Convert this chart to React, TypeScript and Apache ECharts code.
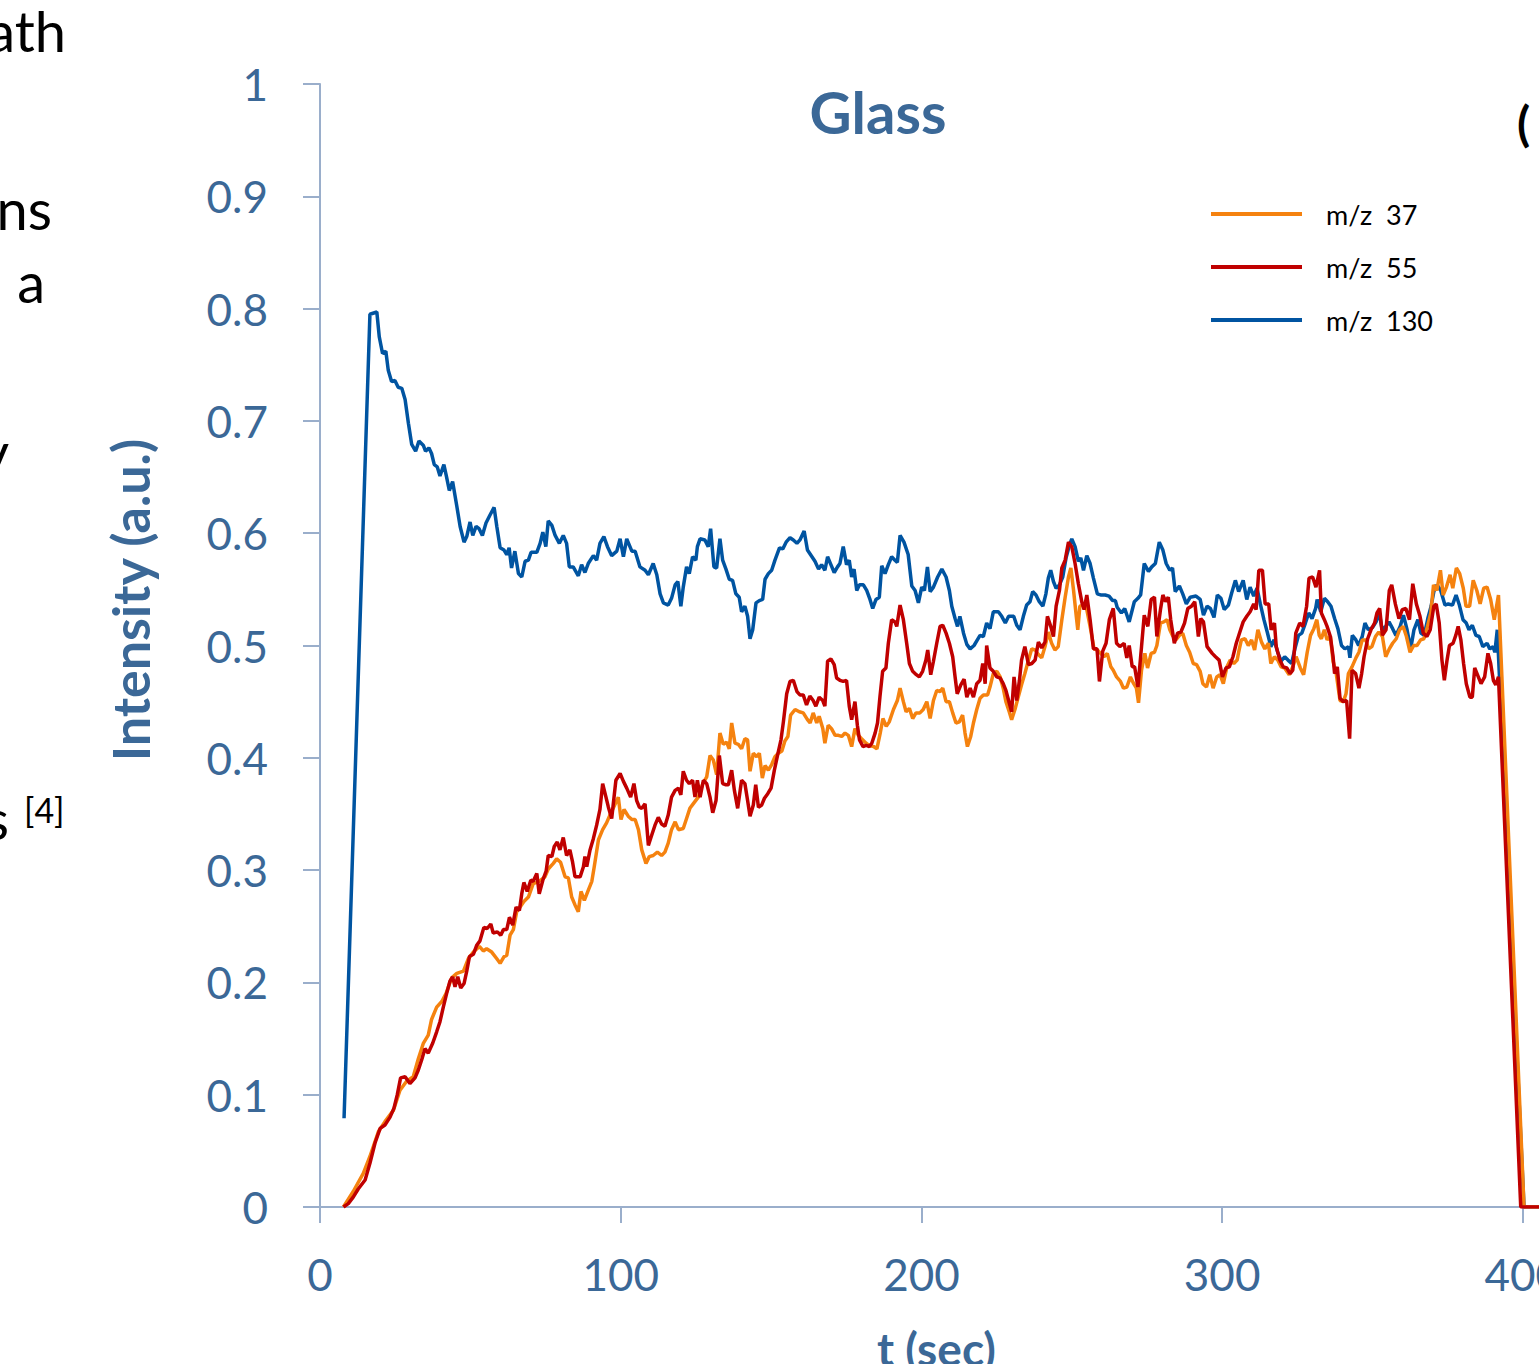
import React, { useEffect, useRef } from "react";
import * as echarts from "echarts";

// ---- data (t in sec, intensity in a.u.) ----
const seriesNames = ["m/z  37", "m/z  55", "m/z  130"];
const seriesColors = ["#F5820F", "#C00000", "#0054A1"];

const mz37: number[][] = [
  [7.8,0],[11.1,0.014],[14.4,0.030],[16.6,0.045],[19.4,0.067],[21.6,0.076],[24.4,0.086],[26.6,0.104],[28.8,0.112],[31.0,0.116],[32.7,0.132],[34.4,0.146],[36.0,0.153],[37.1,0.167],[38.8,0.178],[40.5,0.183],[41.9,0.190],[43.8,0.204],[45.5,0.208],[47.7,0.210],[49.3,0.221],[51.0,0.227],[53.0,0.232],[54.3,0.228],[55.4,0.230],[57.1,0.227],[58.8,0.221],[59.9,0.217],[61.2,0.223],[62.1,0.224],[63.2,0.242],[64.3,0.247],[65.4,0.263],[66.5,0.267],[67.8,0.272],[69.3,0.276],[70.9,0.288],[72.1,0.289],[73.4,0.291],[74.8,0.294],[75.9,0.301],[77.6,0.306],[78.7,0.310],[80.0,0.307],[81.5,0.294],[82.6,0.293],[83.7,0.276],[84.8,0.269],[85.9,0.263],[86.8,0.281],[87.9,0.273],[89.2,0.282],[90.4,0.290],[91.2,0.303],[92.6,0.327],[94.0,0.336],[95.3,0.342],[96.4,0.349],[97.5,0.355],[99.2,0.365],[100.1,0.345],[101.1,0.354],[102.5,0.348],[103.7,0.345],[104.8,0.345],[105.9,0.336],[107.0,0.318],[108.4,0.306],[109.5,0.312],[110.8,0.313],[112.2,0.316],[113.6,0.313],[114.7,0.316],[115.8,0.324],[116.9,0.336],[118.1,0.343],[119.2,0.336],[120.8,0.337],[121.9,0.346],[123.0,0.355],[124.1,0.359],[125.8,0.365],[127.3,0.377],[128.6,0.383],[129.7,0.402],[130.8,0.398],[131.9,0.385],[133.0,0.422],[134.1,0.412],[135.2,0.414],[136.1,0.408],[136.9,0.431],[138.0,0.413],[139.1,0.412],[140.2,0.408],[141.3,0.417],[142.2,0.416],[143.0,0.388],[144.1,0.404],[145.2,0.401],[146.1,0.404],[147.1,0.382],[148.0,0.393],[149.1,0.389],[150.2,0.394],[151.3,0.401],[152.4,0.404],[153.6,0.406],[154.6,0.415],[155.6,0.419],[156.5,0.438],[158.0,0.443],[159.4,0.441],[160.7,0.440],[162.1,0.434],[163.0,0.431],[164.0,0.440],[165.2,0.431],[166.0,0.437],[167.2,0.426],[167.9,0.413],[169.0,0.429],[170.1,0.426],[171.3,0.420],[172.4,0.420],[173.5,0.419],[174.6,0.422],[175.7,0.420],[176.8,0.410],[177.9,0.426],[179.0,0.420],[180.1,0.417],[181.6,0.413],[182.7,0.411],[184.1,0.410],[185.2,0.408],[186.3,0.422],[187.2,0.435],[188.3,0.428],[189.3,0.432],[190.7,0.443],[192.0,0.451],[192.9,0.462],[194.0,0.450],[194.9,0.441],[196.0,0.444],[197.1,0.435],[198.2,0.440],[199.5,0.440],[200.6,0.443],[201.8,0.450],[202.9,0.435],[204.0,0.451],[205.1,0.460],[206.2,0.459],[207.1,0.462],[208.2,0.450],[209.3,0.450],[210.4,0.440],[211.5,0.431],[212.6,0.432],[213.7,0.438],[214.5,0.422],[215.3,0.410],[216.4,0.419],[217.3,0.431],[218.4,0.443],[219.5,0.453],[220.6,0.456],[222.0,0.456],[222.8,0.463],[223.9,0.475],[225.1,0.477],[226.2,0.472],[227.2,0.462],[228.1,0.450],[229.2,0.441],[230.0,0.434],[231.1,0.443],[232.2,0.454],[233.3,0.465],[234.4,0.475],[235.6,0.487],[236.7,0.497],[237.8,0.496],[238.9,0.492],[240.0,0.489],[241.1,0.499],[242.2,0.512],[243.3,0.502],[244.4,0.496],[245.5,0.499],[246.7,0.523],[247.8,0.543],[248.9,0.561],[249.7,0.569],[250.6,0.549],[251.5,0.526],[252.0,0.514],[252.7,0.535],[253.9,0.536],[255.0,0.532],[256.3,0.514],[257.4,0.497],[258.5,0.496],[259.6,0.493],[260.7,0.490],[261.8,0.493],[263.0,0.481],[263.8,0.478],[264.9,0.472],[266.2,0.468],[267.2,0.462],[268.3,0.463],[269.5,0.472],[270.6,0.466],[271.5,0.462],[272.2,0.449],[273.2,0.478],[274.3,0.493],[275.2,0.480],[276.4,0.493],[277.5,0.494],[278.3,0.500],[279.5,0.520],[280.6,0.521],[281.7,0.523],[282.6,0.514],[283.5,0.509],[284.6,0.505],[285.8,0.509],[286.9,0.511],[288.1,0.500],[289.2,0.494],[290.4,0.484],[291.5,0.483],[292.7,0.477],[293.6,0.466],[294.8,0.463],[295.9,0.474],[297.0,0.462],[298.2,0.472],[299.3,0.474],[300.4,0.466],[301.6,0.481],[302.7,0.487],[303.9,0.484],[305.0,0.487],[305.5,0.494],[306.4,0.505],[307.6,0.506],[308.7,0.500],[309.8,0.505],[310.8,0.496],[311.9,0.514],[313.1,0.503],[314.2,0.497],[315.4,0.502],[316.2,0.484],[317.4,0.490],[318.5,0.487],[319.6,0.481],[320.8,0.480],[322.3,0.474],[323.5,0.481],[324.6,0.490],[326.0,0.480],[327.1,0.474],[328.3,0.494],[329.4,0.509],[330.5,0.515],[331.5,0.523],[332.3,0.509],[333.0,0.506],[334.0,0.514],[334.9,0.505],[336.0,0.508],[336.9,0.486],[338.0,0.474],[339.2,0.451],[340.3,0.450],[341.2,0.457],[342.0,0.475],[343.2,0.481],[344.5,0.489],[345.5,0.494],[346.6,0.505],[347.8,0.505],[348.7,0.497],[349.8,0.499],[351.0,0.508],[352.1,0.512],[353.3,0.508],[354.4,0.490],[355.6,0.497],[356.7,0.502],[357.9,0.506],[359.0,0.514],[360.2,0.517],[361.3,0.508],[362.5,0.494],[363.7,0.500],[364.8,0.500],[366.0,0.505],[367.1,0.506],[368.3,0.517],[369.4,0.529],[370.3,0.554],[371.4,0.549],[372.6,0.567],[373.5,0.545],[374.6,0.552],[375.8,0.563],[376.7,0.551],[377.9,0.569],[379.0,0.564],[380.2,0.551],[381.1,0.535],[382.3,0.535],[383.5,0.558],[384.7,0.549],[385.8,0.537],[387.0,0.551],[388.1,0.552],[389.3,0.541],[390.5,0.523],[391.9,0.545],[400.4,0],[410,0]
];

const mz55: number[][] = [
  [7.8,0],[9.4,0.003],[11.1,0.009],[12.7,0.016],[15.0,0.024],[16.6,0.039],[18.3,0.057],[20.0,0.070],[21.6,0.073],[23.3,0.080],[24.6,0.088],[25.7,0.100],[26.8,0.115],[28.3,0.116],[29.9,0.110],[31.6,0.115],[32.7,0.122],[33.8,0.131],[34.9,0.141],[36.0,0.137],[37.5,0.146],[38.8,0.156],[39.9,0.165],[41.0,0.178],[42.1,0.190],[43.2,0.201],[44.1,0.205],[44.9,0.196],[45.8,0.205],[46.8,0.195],[47.9,0.199],[48.8,0.210],[49.7,0.223],[51.0,0.225],[52.1,0.233],[53.2,0.237],[54.5,0.249],[55.6,0.248],[56.8,0.252],[57.6,0.244],[59.0,0.245],[60.1,0.242],[61.0,0.247],[62.1,0.247],[63.0,0.258],[64.1,0.251],[65.2,0.267],[66.3,0.264],[67.1,0.279],[67.8,0.289],[68.9,0.281],[70.1,0.291],[70.9,0.290],[72.1,0.297],[72.9,0.279],[74.1,0.291],[75.2,0.299],[75.9,0.313],[77.1,0.312],[77.9,0.321],[78.9,0.325],[79.8,0.318],[80.9,0.329],[82.0,0.313],[83.1,0.318],[84.0,0.307],[84.8,0.294],[86.5,0.294],[87.6,0.303],[88.1,0.312],[88.7,0.303],[89.8,0.318],[90.9,0.328],[92.0,0.340],[93.1,0.354],[94.0,0.377],[95.1,0.365],[95.9,0.356],[97.0,0.346],[98.4,0.380],[99.8,0.386],[100.9,0.379],[102.0,0.373],[103.3,0.365],[104.4,0.377],[105.3,0.362],[106.2,0.356],[107.0,0.355],[108.1,0.359],[109.2,0.322],[110.3,0.331],[111.4,0.340],[112.5,0.347],[113.6,0.341],[114.7,0.339],[115.8,0.349],[116.9,0.365],[118.1,0.371],[119.2,0.373],[120.0,0.367],[120.8,0.388],[121.9,0.380],[122.8,0.377],[123.9,0.380],[124.7,0.365],[125.5,0.380],[126.4,0.365],[127.5,0.380],[128.6,0.377],[129.7,0.365],[130.6,0.351],[131.7,0.362],[132.8,0.402],[133.9,0.377],[135.0,0.376],[135.8,0.376],[136.9,0.389],[137.8,0.371],[138.9,0.355],[140.2,0.380],[141.3,0.377],[142.2,0.362],[143.0,0.348],[144.1,0.358],[144.9,0.376],[145.8,0.356],[146.9,0.358],[147.8,0.364],[148.9,0.368],[150.0,0.373],[151.1,0.389],[152.3,0.404],[153.3,0.416],[154.1,0.432],[155.2,0.457],[156.3,0.468],[157.4,0.469],[158.6,0.459],[159.6,0.456],[160.7,0.456],[161.8,0.447],[162.9,0.455],[164.0,0.451],[164.9,0.446],[166.0,0.454],[167.2,0.451],[167.9,0.446],[168.8,0.486],[169.9,0.488],[171.0,0.483],[171.8,0.471],[172.9,0.469],[174.0,0.468],[175.1,0.469],[176.0,0.446],[176.8,0.434],[177.9,0.450],[178.7,0.429],[179.4,0.416],[180.6,0.410],[181.6,0.411],[182.7,0.410],[183.5,0.413],[184.6,0.422],[185.4,0.431],[186.2,0.454],[187.1,0.477],[188.2,0.480],[189.0,0.502],[190.1,0.523],[191.2,0.521],[191.8,0.517],[192.9,0.536],[194.0,0.523],[195.1,0.502],[196.0,0.484],[197.1,0.477],[198.3,0.474],[199.3,0.472],[200.4,0.477],[201.5,0.487],[202.1,0.496],[203.1,0.474],[204.0,0.486],[205.1,0.502],[206.2,0.517],[207.1,0.518],[208.2,0.511],[209.3,0.502],[210.4,0.490],[211.2,0.472],[211.9,0.457],[213.1,0.465],[214.2,0.470],[215.1,0.454],[216.2,0.462],[217.3,0.454],[218.4,0.466],[219.5,0.469],[220.4,0.484],[221.2,0.466],[221.7,0.500],[222.8,0.480],[223.9,0.477],[225.1,0.472],[226.2,0.471],[227.2,0.466],[228.1,0.460],[229.2,0.449],[230.0,0.441],[230.8,0.472],[231.7,0.451],[232.6,0.469],[233.3,0.487],[234.4,0.499],[235.6,0.483],[236.7,0.484],[237.8,0.487],[238.9,0.503],[240.0,0.498],[241.1,0.503],[241.9,0.526],[243.0,0.517],[243.9,0.508],[244.8,0.535],[245.9,0.549],[246.7,0.569],[247.8,0.576],[248.9,0.592],[250.0,0.588],[251.1,0.573],[252.2,0.555],[253.4,0.538],[254.1,0.532],[255.0,0.545],[256.1,0.523],[257.2,0.497],[258.4,0.497],[259.2,0.468],[260.3,0.495],[261.4,0.502],[262.5,0.523],[263.8,0.533],[264.9,0.502],[266.0,0.499],[267.4,0.502],[268.3,0.489],[269.1,0.500],[270.1,0.481],[270.9,0.481],[272.0,0.463],[273.2,0.499],[274.1,0.527],[275.3,0.517],[276.4,0.541],[277.5,0.543],[278.3,0.508],[279.5,0.532],[280.3,0.545],[281.2,0.539],[282.1,0.543],[282.9,0.523],[284.1,0.502],[285.2,0.511],[286.3,0.512],[287.5,0.520],[288.6,0.533],[289.8,0.535],[290.9,0.539],[292.1,0.508],[292.9,0.524],[293.8,0.521],[295.0,0.499],[296.7,0.493],[297.8,0.490],[299.0,0.487],[300.1,0.472],[301.3,0.480],[302.4,0.481],[303.6,0.490],[304.7,0.502],[305.9,0.512],[307.0,0.521],[308.2,0.526],[309.3,0.530],[310.5,0.537],[311.3,0.532],[312.2,0.567],[313.4,0.567],[314.3,0.537],[315.5,0.537],[316.3,0.514],[317.4,0.520],[318.0,0.499],[319.2,0.487],[320.3,0.481],[321.5,0.480],[322.6,0.475],[323.5,0.478],[324.5,0.511],[325.8,0.520],[326.9,0.517],[328.1,0.535],[328.9,0.560],[330.1,0.561],[331.2,0.552],[332.4,0.567],[333.0,0.529],[334.0,0.523],[334.9,0.517],[336.0,0.508],[336.9,0.490],[337.4,0.475],[338.3,0.481],[339.2,0.453],[340.3,0.450],[341.4,0.451],[342.4,0.417],[343.2,0.478],[344.4,0.475],[345.5,0.462],[346.4,0.475],[347.2,0.490],[348.4,0.506],[349.5,0.514],[350.7,0.520],[351.5,0.529],[352.4,0.533],[353.3,0.509],[354.5,0.514],[355.6,0.549],[356.4,0.554],[357.6,0.537],[358.8,0.524],[359.9,0.532],[361.1,0.533],[362.3,0.523],[363.4,0.555],[364.6,0.537],[365.8,0.526],[366.9,0.511],[368.1,0.508],[369.2,0.514],[370.4,0.535],[371.2,0.537],[372.2,0.520],[373.1,0.487],[373.9,0.469],[374.8,0.487],[375.6,0.500],[376.8,0.502],[377.7,0.509],[378.5,0.517],[379.4,0.505],[380.3,0.484],[381.2,0.466],[382.4,0.454],[383.2,0.454],[384.0,0.480],[385.2,0.472],[386.1,0.466],[387.3,0.472],[388.4,0.493],[389.3,0.484],[390.2,0.469],[391.0,0.465],[391.9,0.472],[399.3,0],[410,0]
];

const mz130: number[][] = [
  [8.0,0.079],[16.6,0.795],[18.9,0.797],[19.7,0.775],[20.8,0.760],[21.9,0.762],[22.7,0.745],[23.8,0.735],[24.9,0.736],[26.0,0.730],[27.2,0.729],[28.3,0.719],[29.4,0.698],[30.5,0.679],[31.8,0.673],[32.9,0.682],[34.4,0.678],[35.1,0.673],[36.2,0.676],[37.1,0.671],[38.0,0.661],[39.0,0.659],[39.9,0.651],[41.2,0.661],[42.1,0.650],[43.0,0.638],[44.1,0.646],[45.5,0.624],[46.6,0.606],[47.9,0.592],[48.8,0.597],[49.9,0.610],[50.8,0.598],[51.9,0.606],[52.9,0.604],[54.0,0.598],[55.2,0.609],[56.5,0.616],[57.9,0.623],[58.8,0.606],[59.9,0.587],[61.2,0.585],[62.1,0.581],[62.9,0.587],[63.7,0.569],[64.8,0.584],[66.0,0.564],[67.1,0.561],[68.2,0.575],[69.3,0.576],[70.2,0.583],[72.1,0.583],[73.2,0.591],[74.1,0.601],[75.1,0.588],[75.9,0.611],[77.1,0.607],[78.2,0.598],[79.6,0.591],[80.9,0.598],[82.0,0.591],[82.9,0.570],[84.2,0.570],[85.9,0.562],[87.0,0.572],[88.1,0.565],[89.2,0.573],[90.9,0.580],[92.0,0.576],[93.1,0.591],[94.4,0.597],[95.6,0.588],[97.0,0.580],[98.7,0.584],[99.8,0.595],[100.9,0.579],[102.0,0.595],[103.7,0.584],[104.8,0.584],[106.4,0.570],[108.1,0.567],[109.2,0.563],[110.8,0.573],[112.0,0.563],[113.1,0.546],[114.2,0.538],[115.8,0.536],[116.9,0.542],[118.1,0.554],[119.0,0.557],[120.0,0.535],[120.8,0.552],[121.9,0.570],[122.8,0.564],[123.9,0.579],[125.0,0.576],[125.5,0.588],[126.4,0.595],[128.0,0.594],[129.1,0.588],[129.9,0.604],[131.0,0.570],[131.9,0.569],[133.0,0.595],[133.9,0.576],[135.0,0.568],[136.1,0.559],[137.2,0.558],[138.3,0.546],[139.4,0.543],[140.2,0.530],[141.3,0.535],[142.2,0.526],[143.0,0.506],[143.9,0.514],[145.0,0.538],[146.1,0.540],[147.2,0.541],[148.0,0.559],[149.1,0.564],[150.2,0.567],[151.3,0.576],[152.8,0.587],[153.9,0.586],[155.0,0.592],[156.3,0.596],[157.4,0.594],[158.6,0.591],[159.6,0.594],[161.0,0.602],[162.1,0.585],[163.6,0.579],[164.6,0.575],[165.8,0.568],[166.8,0.572],[167.9,0.567],[168.8,0.579],[169.9,0.572],[171.0,0.565],[172.1,0.570],[172.9,0.573],[174.0,0.588],[175.1,0.572],[176.0,0.576],[176.8,0.561],[177.6,0.568],[178.5,0.549],[179.4,0.554],[180.7,0.554],[181.8,0.549],[182.9,0.541],[183.8,0.533],[184.9,0.541],[186.0,0.543],[186.8,0.571],[187.9,0.564],[189.0,0.572],[190.1,0.579],[191.2,0.576],[192.0,0.574],[192.9,0.598],[194.2,0.592],[195.6,0.581],[196.8,0.553],[197.9,0.549],[199.0,0.538],[200.1,0.552],[201.0,0.549],[202.0,0.570],[202.9,0.548],[204.0,0.552],[205.4,0.561],[206.8,0.568],[208.2,0.561],[209.3,0.549],[210.1,0.535],[211.2,0.524],[212.0,0.517],[212.8,0.526],[214.0,0.511],[215.1,0.501],[216.2,0.497],[217.5,0.500],[218.6,0.505],[219.5,0.509],[220.6,0.508],[221.7,0.520],[222.8,0.515],[223.9,0.530],[225.6,0.530],[226.7,0.526],[227.9,0.520],[229.0,0.526],[230.7,0.526],[231.7,0.518],[232.8,0.514],[233.9,0.526],[235.0,0.536],[236.1,0.539],[237.0,0.548],[238.1,0.545],[239.2,0.539],[240.4,0.535],[241.4,0.546],[242.2,0.560],[243.0,0.567],[243.9,0.557],[244.8,0.551],[245.9,0.554],[247.0,0.561],[248.1,0.578],[249.2,0.589],[250.0,0.595],[251.1,0.588],[252.2,0.575],[253.0,0.578],[253.9,0.567],[255.0,0.580],[256.1,0.573],[257.2,0.560],[258.5,0.546],[259.6,0.545],[261.1,0.545],[262.4,0.544],[263.6,0.540],[264.5,0.540],[265.1,0.534],[266.5,0.529],[267.6,0.533],[269.1,0.521],[270.8,0.539],[272.0,0.542],[272.9,0.545],[274.1,0.573],[275.5,0.566],[276.6,0.570],[277.8,0.573],[279.1,0.592],[280.3,0.585],[281.4,0.573],[282.6,0.567],[283.5,0.569],[284.4,0.548],[285.8,0.553],[286.9,0.546],[288.1,0.537],[289.4,0.543],[291.3,0.544],[292.7,0.541],[293.8,0.527],[295.0,0.535],[296.1,0.533],[297.3,0.525],[298.4,0.545],[299.6,0.542],[300.7,0.532],[302.1,0.536],[303.2,0.547],[304.4,0.558],[305.5,0.548],[307.0,0.558],[308.2,0.541],[309.3,0.552],[310.5,0.544],[311.6,0.551],[312.7,0.537],[313.9,0.523],[315.0,0.512],[316.2,0.499],[317.3,0.505],[318.5,0.494],[319.6,0.486],[320.8,0.490],[321.9,0.487],[323.1,0.484],[324.2,0.497],[325.4,0.509],[326.5,0.511],[327.7,0.520],[328.8,0.529],[329.9,0.524],[331.1,0.533],[331.6,0.541],[332.8,0.530],[334.0,0.542],[335.1,0.539],[336.2,0.535],[337.4,0.524],[338.5,0.515],[339.7,0.500],[340.8,0.497],[342.0,0.499],[342.5,0.489],[343.3,0.509],[344.5,0.505],[345.4,0.500],[346.6,0.508],[347.5,0.520],[348.6,0.514],[350.0,0.516],[351.2,0.521],[352.3,0.529],[353.2,0.514],[354.4,0.517],[355.5,0.521],[356.7,0.515],[357.8,0.509],[359.2,0.517],[360.3,0.527],[361.5,0.514],[362.7,0.497],[363.8,0.514],[365.1,0.523],[366.1,0.511],[367.2,0.509],[368.4,0.524],[369.5,0.535],[370.4,0.548],[371.5,0.554],[372.7,0.549],[374.1,0.536],[375.2,0.537],[376.6,0.536],[377.8,0.545],[378.9,0.536],[380.1,0.523],[381.2,0.520],[382.1,0.514],[383.2,0.518],[384.4,0.509],[385.5,0.508],[386.7,0.499],[388.1,0.502],[389.0,0.497],[390.1,0.499],[390.7,0.494],[391.5,0.514],[400.4,0],[410,0]
];

// axis settings
const xMin = 0;
const xMax = 410;
const xInterval = 100;
const yMin = 0;
const yMax = 1;
const yInterval = 0.1;

const AXIS_COLOR = "#9aaecb";
const LABEL_COLOR = "#3b6897";
const FONT = "Lato, 'Open Sans', sans-serif";

export default function App() {
  const ref = useRef<HTMLDivElement>(null);

  useEffect(() => {
    if (!ref.current) return;
    const chart = echarts.init(ref.current, undefined, { renderer: "svg" });

    const lineSeries = (name: string, data: number[][], color: string, z: number) => ({
      name,
      type: "line",
      data,
      z,
      showSymbol: false,
      symbol: "none",
      color,
      lineStyle: { color, width: 3.5 },
      itemStyle: { color },
      emphasis: { disabled: true },
    });

    const bodyText = (text: string, x: number, y: number, size: number, align: string, weight = "normal") => ({
      type: "text",
      x,
      y,
      silent: true,
      style: {
        text,
        fill: "#000",
        fontSize: size,
        fontFamily: FONT,
        fontWeight: weight,
        align,
        textAlign: align,
        verticalAlign: "middle",
        textVerticalAlign: "middle",
      },
    });

    chart.setOption({
      animation: false,
      backgroundColor: "#ffffff",
      textStyle: { fontFamily: FONT },
      grid: {
        left: 320,
        top: 84,
        width: 1232.9,
        height: 1123,
        containLabel: false,
        outerBoundsMode: "none",
      },
      legend: {
        data: seriesNames,
        orient: "vertical",
        left: 1211,
        top: 200.5,
        padding: 0,
        itemWidth: 91,
        itemHeight: 4,
        itemGap: 26,
        icon: "rect",
        selectedMode: false,
        textStyle: {
          fontSize: 27,
          lineHeight: 27,
          color: "#000",
          fontFamily: FONT,
          padding: [0, 0, 0, 19],
        },
      },
      xAxis: {
        type: "value",
        min: xMin,
        max: xMax,
        interval: xInterval,
        name: "t (sec)",
        nameLocation: "middle",
        nameGap: 118,
        nameTextStyle: { color: LABEL_COLOR, fontSize: 46, fontWeight: "bold", fontFamily: FONT },
        axisLine: { show: true, onZero: false, lineStyle: { color: AXIS_COLOR, width: 2 } },
        axisTick: { show: true, length: 16, lineStyle: { color: AXIS_COLOR, width: 2 } },
        axisLabel: { color: LABEL_COLOR, fontSize: 44, margin: 45, showMaxLabel: false, fontFamily: FONT },
        splitLine: { show: false },
      },
      yAxis: {
        type: "value",
        min: yMin,
        max: yMax,
        interval: yInterval,
        axisLine: { show: true, lineStyle: { color: AXIS_COLOR, width: 2 } },
        axisTick: { show: true, length: 17, lineStyle: { color: AXIS_COLOR, width: 2 } },
        axisLabel: { color: LABEL_COLOR, fontSize: 44, margin: 52, fontFamily: FONT },
        splitLine: { show: false },
      },
      graphic: [
        {
          type: "text",
          x: 878,
          y: 111,
          silent: true,
          style: {
            text: "Glass",
            fill: LABEL_COLOR,
            fontSize: 58,
            fontWeight: "bold",
            fontFamily: FONT,
            align: "center",
            textAlign: "center",
            verticalAlign: "middle",
            textVerticalAlign: "middle",
          },
        },
        {
          type: "text",
          x: 130,
          y: 600,
          rotation: Math.PI / 2,
          silent: true,
          style: {
            text: "Intensity (a.u.)",
            fill: LABEL_COLOR,
            fontSize: 52,
            fontWeight: "bold",
            fontFamily: FONT,
            align: "center",
            textAlign: "center",
            verticalAlign: "middle",
            textVerticalAlign: "middle",
          },
        },
        bodyText("ath", 66, 30, 56, "right"),
        bodyText("ns", 52, 208, 56, "right"),
        bodyText("a", 45, 281, 56, "right"),
        bodyText("y", 9, 451, 56, "right"),
        bodyText("s", 9, 818, 56, "right"),
        bodyText("[4]", 24, 809, 34, "left"),
        bodyText("(", 1517, 122, 48, "left", "bold"),
      ],
      series: [
        lineSeries(seriesNames[2], mz130, seriesColors[2], 2),
        lineSeries(seriesNames[0], mz37, seriesColors[0], 3),
        lineSeries(seriesNames[1], mz55, seriesColors[1], 4),
      ],
    });

    return () => chart.dispose();
  }, []);

  return (
    <div
      style={{
        position: "absolute",
        left: 0,
        top: 0,
        width: 1539,
        height: 1364,
        overflow: "hidden",
        background: "#fff",
      }}
    >
      <div ref={ref} style={{ width: 1700, height: 1364 }} />
    </div>
  );
}
